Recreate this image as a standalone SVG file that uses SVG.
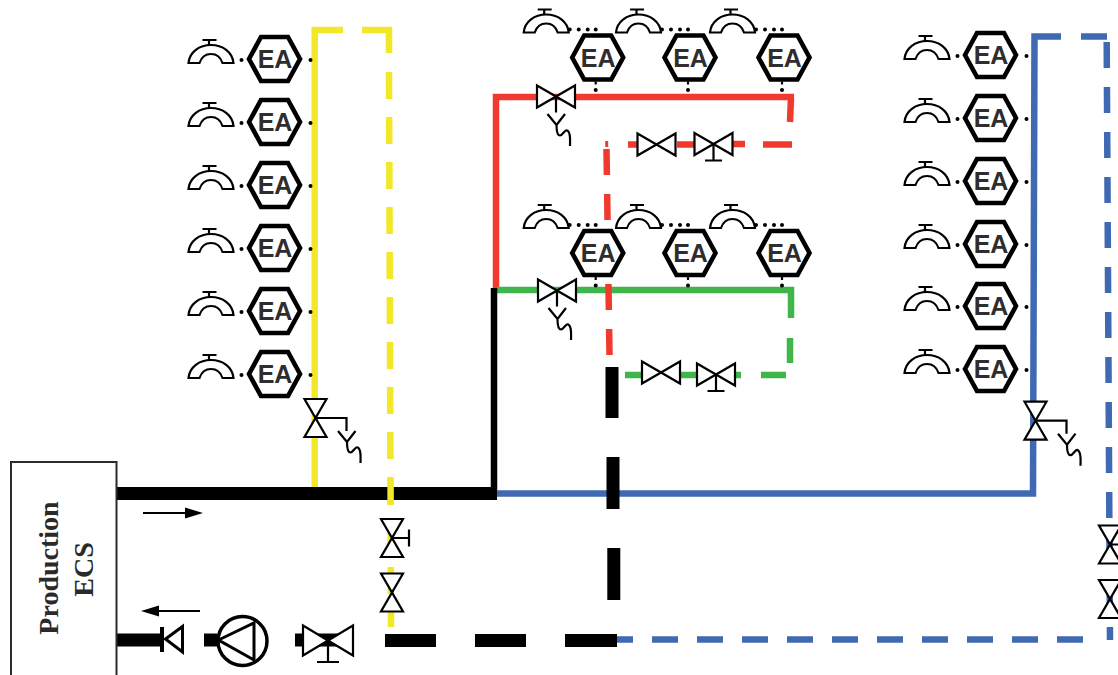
<svg xmlns="http://www.w3.org/2000/svg" xmlns:xlink="http://www.w3.org/1999/xlink" width="1118" height="675" viewBox="0 0 1118 675">
<style>
.p{fill:none;stroke-linecap:butt;stroke-linejoin:miter}
.y{stroke:#f2e827;stroke-width:6.5}
.r{stroke:#ef3a2d;stroke-width:6.5}
.g{stroke:#3fb54a;stroke-width:6.5}
.b{stroke:#3f69b3;stroke-width:6.5}
.k{stroke:#000;stroke-width:13}
.ea{font-family:"Liberation Sans",Arial,sans-serif;font-weight:700;font-size:25px;fill:#2f2d2e;text-anchor:middle}
.pe{font-family:"Liberation Serif","Times New Roman",serif;font-weight:700;font-size:28px;fill:#2b2a29;text-anchor:middle}
.s{fill:none;stroke:#000;stroke-width:2.2}
.sw{fill:#fff;stroke:#000;stroke-width:2.2}
</style>
<defs>
<marker id="ah" markerUnits="userSpaceOnUse" markerWidth="18" markerHeight="12" refX="0" refY="6" orient="auto"><path d="M0 .5L18 6L0 11.5Z" fill="#000"/></marker>
<g id="hex"><polygon points="-25.500,0 -13.500,-22 13.500,-22 25.500,0 13.500,22 -13.500,22" fill="#fff" stroke="#000" stroke-width="4.6"/></g>
<g id="tap"><path class="sw" d="M1 25C2 14 12 7 23.500 7C35 7 45 14 46 25H35C33 19 29 16 23.500 16C18 16 14 19 12 25Z"/><path class="s" d="M21.500 1V7M15 2H29"/></g>
<g id="side"><use xlink:href="#hex"/><use xlink:href="#tap" x="-87" y="-21"/><circle cx="-33" cy="1" r="2"/><circle cx="36" cy="1" r="2"/></g>
<g id="top"><use xlink:href="#hex"/><use xlink:href="#tap" x="-75" y="-50"/><circle cx="-28" cy="-28" r="2"/><circle cx="-19" cy="-28" r="2"/><circle cx="-10" cy="-28" r="2"/><circle cx="-2" cy="-28" r="2"/><circle cx="-2" cy="32.500" r="2"/><path class="s" d="M-2 24V27"/></g>
<polygon id="vh" class="sw" points="-19,-11 19,11 19,-11 -19,11"/>
<polygon id="vv" class="sw" points="-11,-19 11,-19 -11,19 11,19"/>
<path id="yq" class="s" d="M-9 -11L0 0L8.500 -11M0 0C0 6 1 10.500 3.500 10.500C6.500 10.500 8.500 3 11.500 6C14.500 9 13.500 15 13.500 21"/>
</defs>

<g id="connectors">
<path class="p y" d="M314.700 488V30H343"/>
<path class="p y" d="M362 30H389V53"/>
<path class="p y" stroke-dasharray="27 18" d="M389 72L391 627"/>
<path class="p k" d="M117 493.500H497"/>
<path class="p y" d="M390.600 479V505"/>
<path class="p r" d="M496 290V97H794"/>
<path class="p r" d="M791 97L790 122"/>
<path class="p r" d="M628 144.500H644M677 144.500H694M733 144H745M763 144.500H792"/>
<path class="p" stroke="#ef3a2d" stroke-width="3" d="M606.700 141V147"/>
<path class="p g" d="M497 290H791V318"/>
<path class="p g" d="M790 338V363M786 375H761M741 375H735M696 375H680M641 375H625"/>
<path class="p r" stroke-dasharray="26 19" d="M606.500 149L609.500 355"/>
<path class="p" stroke="#000" stroke-width="6.500" d="M494 288V497"/>
<path class="p b" d="M497 493.500H1033L1034.500 36.500H1061"/>
<path class="p b" d="M1081 36.500H1107"/>
<path class="p b" stroke-dasharray="26 19" d="M1106.700 42L1110 640"/>
<path class="p b" stroke-dasharray="26 19" d="M607 639.500H1084"/>
<path class="p k" d="M612 367V418M613 457V509M613.800 548V600"/>
<path class="p k" d="M385 640.500H436M475 640.500H526M565 640.500H617"/>
<path class="p k" d="M117 640H162"/>
<path class="p k" d="M204 640H217"/>
<path class="p k" stroke-width="12" d="M295 640H340"/>
<line x1="143" y1="513" x2="185" y2="513" stroke="#000" stroke-width="2" marker-end="url(#ah)"/>
<line x1="200" y1="611" x2="159" y2="611" stroke="#000" stroke-width="2" marker-end="url(#ah)"/>
</g>

<g id="production"><rect x="11" y="462" width="105.500" height="225" fill="#fff" stroke="#2b2a29" stroke-width="2"/>
<text class="pe" transform="translate(58 568) rotate(-90)">Production</text>
<text class="pe" transform="translate(92.500 569.500) rotate(-90)">ECS</text></g>

<g id="ea-y1" transform="translate(274.500 59)"><use xlink:href="#side"/><text class="ea" x=".5" y="9">EA</text></g>
<g id="ea-y2" transform="translate(274.500 122)"><use xlink:href="#side"/><text class="ea" x=".5" y="9">EA</text></g>
<g id="ea-y3" transform="translate(274.500 185)"><use xlink:href="#side"/><text class="ea" x=".5" y="9">EA</text></g>
<g id="ea-y4" transform="translate(274.500 248)"><use xlink:href="#side"/><text class="ea" x=".5" y="9">EA</text></g>
<g id="ea-y5" transform="translate(274.500 311)"><use xlink:href="#side"/><text class="ea" x=".5" y="9">EA</text></g>
<g id="ea-y6" transform="translate(274.500 374)"><use xlink:href="#side"/><text class="ea" x=".5" y="9">EA</text></g>

<g id="ea-b1" transform="translate(990.500 55)"><use xlink:href="#side"/><text class="ea" x=".5" y="9">EA</text></g>
<g id="ea-b2" transform="translate(990.500 118)"><use xlink:href="#side"/><text class="ea" x=".5" y="9">EA</text></g>
<g id="ea-b3" transform="translate(990.500 181)"><use xlink:href="#side"/><text class="ea" x=".5" y="9">EA</text></g>
<g id="ea-b4" transform="translate(990.500 244)"><use xlink:href="#side"/><text class="ea" x=".5" y="9">EA</text></g>
<g id="ea-b5" transform="translate(990.500 306)"><use xlink:href="#side"/><text class="ea" x=".5" y="9">EA</text></g>
<g id="ea-b6" transform="translate(990.500 369)"><use xlink:href="#side"/><text class="ea" x=".5" y="9">EA</text></g>

<g id="ea-r1" transform="translate(597.700 57.500)"><use xlink:href="#top"/><text class="ea" x=".5" y="9">EA</text></g>
<g id="ea-r2" transform="translate(690 57.500)"><use xlink:href="#top"/><text class="ea" x=".5" y="9">EA</text></g>
<g id="ea-r3" transform="translate(784 57.500)"><use xlink:href="#top"/><text class="ea" x=".5" y="9">EA</text></g>
<g id="ea-g1" transform="translate(597.700 253)"><use xlink:href="#top"/><text class="ea" x=".5" y="9">EA</text></g>
<g id="ea-g2" transform="translate(690 253)"><use xlink:href="#top"/><text class="ea" x=".5" y="9">EA</text></g>
<g id="ea-g3" transform="translate(784 253)"><use xlink:href="#top"/><text class="ea" x=".5" y="9">EA</text></g>

<g id="valve-red-act" transform="translate(556 96.500)"><use xlink:href="#vh"/><path class="s" d="M0 0V16"/><use xlink:href="#yq" x=".5" y="28.500"/></g>
<g id="valve-green-act" transform="translate(557 290.500)"><use xlink:href="#vh"/><path class="s" d="M0 0V16"/><use xlink:href="#yq" x=".5" y="28.500"/></g>
<g id="valve-yellow-act" transform="translate(315.500 418)"><use xlink:href="#vv"/><path class="s" d="M0 0H31V13"/><use xlink:href="#yq" x="31.500" y="24"/></g>
<g id="valve-blue-act" transform="translate(1035.500 420.700)"><use xlink:href="#vv"/><path class="s" d="M0 0H31V13"/><use xlink:href="#yq" x="31.500" y="24"/></g>

<g id="valve-red-2" transform="translate(656.500 144.500)"><use xlink:href="#vh"/></g>
<g id="valve-red-3" transform="translate(713.500 144)"><use xlink:href="#vh"/><path class="s" d="M0 0V16.500M-8.500 16.500H8.500"/></g>
<g id="valve-green-2" transform="translate(661 372.500)"><use xlink:href="#vh"/></g>
<g id="valve-green-3" transform="translate(716 374.500)"><use xlink:href="#vh"/><path class="s" d="M0 0V16.500M-8.500 16.500H8.500"/></g>

<g id="valve-ret-1" transform="translate(392 538)"><use xlink:href="#vv"/><path class="s" d="M0 0H17M17 -8.500V8.500"/></g>
<g id="valve-ret-2" transform="translate(392 592.500)"><use xlink:href="#vv"/></g>
<g id="valve-blue-1" transform="translate(1110 544.500)"><use xlink:href="#vv"/><path class="s" d="M0 0H17M17 -8.500V8.500"/></g>
<g id="valve-blue-2" transform="translate(1110 599)"><use xlink:href="#vv"/></g>

<g id="check-valve"><path d="M162 627V652" stroke="#000" stroke-width="4"/><polygon points="165.500,639 182.500,626.500 182.500,652" fill="#fff" stroke="#000" stroke-width="3"/></g>
<g id="pump"><circle cx="242.500" cy="641" r="24.500" fill="#fff" stroke="#000" stroke-width="3.500"/><polygon points="218.500,640 254,623 254,660" fill="none" stroke="#000" stroke-width="3"/></g>
<g id="valve-main" transform="translate(328 640.500)"><polygon points="-25,-15 25,15 25,-15 -25,15" fill="#fff" stroke="#000" stroke-width="2.200"/><path d="M-8 -6H8L0 0Z" fill="#000"/><path class="s" d="M0 0V21.500M-11 21.500H11"/></g>
</svg>
